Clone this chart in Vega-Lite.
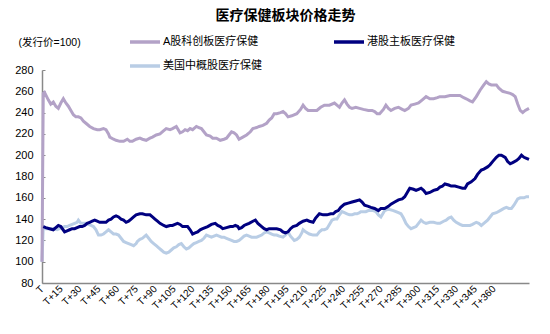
{
  "$schema": "https://vega.github.io/schema/vega-lite/v6.json",
  "width": 487,
  "height": 213,
  "autosize": {"type": "none"},
  "padding": {"left": 42, "top": 70, "right": 21, "bottom": 51},
  "background": "white",
  "config": {
    "view": {"stroke": null},
    "font": "Liberation Sans, Noto Sans CJK SC",
    "axis": {"labelFont": "Liberation Sans, Noto Sans CJK SC", "titleFont": "Liberation Sans, Noto Sans CJK SC"},
    "legend": {"labelFont": "Liberation Sans, Noto Sans CJK SC"}
  },
  "title": {
    "text": "医疗保健板块价格走势",
    "anchor": "middle",
    "fontSize": 14,
    "fontWeight": "bold",
    "font": "Noto Sans CJK SC",
    "color": "#000000",
    "offset": 2
  },
  "datasets": {
    "a": [{"d":0,"v":100},{"d":1,"v":258},{"d":2,"v":259},{"d":5,"v":252},{"d":7,"v":248},{"d":9,"v":250},{"d":11,"v":246},{"d":13,"v":244},{"d":15,"v":249},{"d":17,"v":253},{"d":19,"v":249},{"d":21,"v":246},{"d":23,"v":242},{"d":25,"v":238},{"d":27,"v":236},{"d":29,"v":236},{"d":31,"v":235},{"d":33,"v":232},{"d":35,"v":230},{"d":38,"v":227},{"d":41,"v":225},{"d":44,"v":224},{"d":46,"v":224},{"d":49,"v":225},{"d":51,"v":224},{"d":53,"v":220},{"d":54,"v":217},{"d":57,"v":215},{"d":59,"v":214},{"d":62,"v":213},{"d":65,"v":213},{"d":68,"v":215},{"d":70,"v":213},{"d":72,"v":213},{"d":75,"v":215},{"d":78,"v":216},{"d":80,"v":215},{"d":83,"v":214},{"d":86,"v":216},{"d":88,"v":217},{"d":91,"v":219},{"d":94,"v":220},{"d":97,"v":223},{"d":99,"v":225},{"d":102,"v":224},{"d":104,"v":225},{"d":107,"v":227},{"d":110,"v":221},{"d":112,"v":222},{"d":114,"v":224},{"d":116,"v":223},{"d":118,"v":225},{"d":120,"v":224},{"d":123,"v":227},{"d":125,"v":226},{"d":127,"v":225},{"d":129,"v":222},{"d":131,"v":219},{"d":134,"v":218},{"d":136,"v":216},{"d":139,"v":216},{"d":142,"v":214},{"d":145,"v":215},{"d":147,"v":216},{"d":149,"v":219},{"d":151,"v":222},{"d":153,"v":221},{"d":155,"v":219},{"d":157,"v":215},{"d":160,"v":217},{"d":163,"v":219},{"d":166,"v":222},{"d":168,"v":225},{"d":171,"v":226},{"d":173,"v":227},{"d":176,"v":228},{"d":179,"v":230},{"d":181,"v":233},{"d":183,"v":235},{"d":185,"v":239},{"d":187,"v":239},{"d":190,"v":240},{"d":192,"v":241},{"d":194,"v":239},{"d":196,"v":236},{"d":199,"v":237},{"d":203,"v":239},{"d":206,"v":243},{"d":208,"v":247},{"d":210,"v":244},{"d":212,"v":242},{"d":216,"v":242},{"d":219,"v":242},{"d":222,"v":245},{"d":225,"v":247},{"d":229,"v":247},{"d":233,"v":249},{"d":235,"v":247},{"d":237,"v":245},{"d":239,"v":249},{"d":241,"v":252},{"d":243,"v":248},{"d":245,"v":245},{"d":247,"v":244},{"d":250,"v":245},{"d":253,"v":244},{"d":256,"v":243},{"d":260,"v":242},{"d":263,"v":242},{"d":265,"v":241},{"d":267,"v":239},{"d":269,"v":239},{"d":272,"v":243},{"d":274,"v":247},{"d":276,"v":244},{"d":278,"v":242},{"d":281,"v":244},{"d":284,"v":245},{"d":287,"v":243},{"d":289,"v":242},{"d":292,"v":244},{"d":294,"v":247},{"d":297,"v":248},{"d":300,"v":249},{"d":303,"v":252},{"d":306,"v":255},{"d":309,"v":253},{"d":312,"v":253},{"d":315,"v":254},{"d":317,"v":255},{"d":321,"v":255},{"d":325,"v":256},{"d":329,"v":256},{"d":333,"v":256},{"d":336,"v":254},{"d":338,"v":253},{"d":341,"v":251},{"d":343,"v":250},{"d":346,"v":255},{"d":349,"v":261},{"d":352,"v":266},{"d":354,"v":269},{"d":356,"v":267},{"d":358,"v":266},{"d":360,"v":266},{"d":362,"v":266},{"d":364,"v":263},{"d":367,"v":260},{"d":370,"v":259},{"d":373,"v":258},{"d":375,"v":257},{"d":377,"v":255},{"d":379,"v":248},{"d":381,"v":242},{"d":383,"v":240},{"d":385,"v":242},{"d":388,"v":244}],
    "h": [{"d":1,"v":133},{"d":3,"v":132},{"d":6,"v":131},{"d":9,"v":130},{"d":11,"v":132},{"d":13,"v":134},{"d":15,"v":133},{"d":18,"v":128},{"d":20,"v":129},{"d":22,"v":130},{"d":24,"v":131},{"d":26,"v":131},{"d":28,"v":132},{"d":30,"v":133},{"d":32,"v":133},{"d":34,"v":134},{"d":36,"v":136},{"d":38,"v":137},{"d":40,"v":138},{"d":42,"v":139},{"d":44,"v":138},{"d":46,"v":137},{"d":49,"v":137},{"d":51,"v":137},{"d":53,"v":139},{"d":55,"v":140},{"d":57,"v":142},{"d":59,"v":143},{"d":61,"v":142},{"d":63,"v":140},{"d":65,"v":139},{"d":67,"v":137},{"d":69,"v":138},{"d":71,"v":140},{"d":73,"v":142},{"d":75,"v":144},{"d":78,"v":145},{"d":80,"v":145},{"d":83,"v":144},{"d":86,"v":144},{"d":88,"v":142},{"d":90,"v":140},{"d":92,"v":138},{"d":94,"v":136},{"d":97,"v":134},{"d":99,"v":133},{"d":102,"v":134},{"d":104,"v":134},{"d":106,"v":135},{"d":108,"v":136},{"d":110,"v":135},{"d":112,"v":133},{"d":114,"v":133},{"d":116,"v":133},{"d":118,"v":130},{"d":120,"v":126},{"d":122,"v":127},{"d":124,"v":128},{"d":126,"v":130},{"d":128,"v":131},{"d":130,"v":132},{"d":132,"v":133},{"d":135,"v":135},{"d":138,"v":136},{"d":140,"v":134},{"d":142,"v":133},{"d":144,"v":131},{"d":147,"v":132},{"d":150,"v":133},{"d":152,"v":133},{"d":154,"v":134},{"d":156,"v":133},{"d":157,"v":131},{"d":159,"v":132},{"d":161,"v":134},{"d":163,"v":135},{"d":165,"v":136},{"d":168,"v":138},{"d":170,"v":139},{"d":172,"v":136},{"d":175,"v":133},{"d":177,"v":131},{"d":179,"v":130},{"d":181,"v":131},{"d":184,"v":131},{"d":187,"v":131},{"d":190,"v":130},{"d":192,"v":128},{"d":194,"v":127},{"d":196,"v":128},{"d":198,"v":131},{"d":200,"v":133},{"d":203,"v":134},{"d":205,"v":136},{"d":208,"v":138},{"d":211,"v":139},{"d":213,"v":138},{"d":216,"v":137},{"d":218,"v":141},{"d":221,"v":145},{"d":224,"v":144},{"d":227,"v":144},{"d":230,"v":145},{"d":232,"v":145},{"d":234,"v":147},{"d":236,"v":148},{"d":238,"v":151},{"d":241,"v":154},{"d":244,"v":155},{"d":247,"v":156},{"d":250,"v":157},{"d":253,"v":158},{"d":255,"v":156},{"d":257,"v":153},{"d":260,"v":152},{"d":262,"v":151},{"d":265,"v":150},{"d":268,"v":148},{"d":270,"v":150},{"d":273,"v":150},{"d":276,"v":152},{"d":278,"v":154},{"d":281,"v":156},{"d":284,"v":158},{"d":287,"v":159},{"d":289,"v":161},{"d":291,"v":165},{"d":293,"v":169},{"d":296,"v":168},{"d":298,"v":167},{"d":300,"v":168},{"d":302,"v":169},{"d":304,"v":167},{"d":306,"v":164},{"d":309,"v":165},{"d":312,"v":167},{"d":315,"v":168},{"d":317,"v":170},{"d":319,"v":171},{"d":321,"v":173},{"d":324,"v":172},{"d":326,"v":171},{"d":329,"v":171},{"d":332,"v":170},{"d":335,"v":169},{"d":337,"v":169},{"d":339,"v":173},{"d":342,"v":175},{"d":345,"v":178},{"d":347,"v":182},{"d":350,"v":186},{"d":352,"v":187},{"d":355,"v":189},{"d":357,"v":191},{"d":359,"v":194},{"d":362,"v":198},{"d":364,"v":200},{"d":366,"v":200},{"d":369,"v":198},{"d":371,"v":194},{"d":373,"v":192},{"d":375,"v":193},{"d":378,"v":195},{"d":380,"v":197},{"d":382,"v":200},{"d":384,"v":198},{"d":386,"v":197},{"d":388,"v":196}],
    "u": [{"d":0,"v":100},{"d":1,"v":133},{"d":3,"v":131},{"d":6,"v":131},{"d":9,"v":131},{"d":12,"v":130},{"d":14,"v":131},{"d":16,"v":132},{"d":18,"v":133},{"d":20,"v":133},{"d":22,"v":134},{"d":24,"v":135},{"d":26,"v":136},{"d":28,"v":137},{"d":29,"v":139},{"d":31,"v":136},{"d":33,"v":136},{"d":35,"v":136},{"d":37,"v":135},{"d":39,"v":134},{"d":41,"v":133},{"d":43,"v":130},{"d":45,"v":125},{"d":47,"v":125},{"d":49,"v":126},{"d":51,"v":128},{"d":53,"v":130},{"d":55,"v":128},{"d":57,"v":126},{"d":59,"v":126},{"d":61,"v":125},{"d":63,"v":122},{"d":65,"v":119},{"d":67,"v":118},{"d":69,"v":117},{"d":71,"v":116},{"d":73,"v":115},{"d":75,"v":117},{"d":76,"v":119},{"d":78,"v":121},{"d":80,"v":122},{"d":82,"v":124},{"d":83,"v":125},{"d":85,"v":122},{"d":87,"v":119},{"d":89,"v":117},{"d":91,"v":115},{"d":93,"v":113},{"d":95,"v":111},{"d":97,"v":109},{"d":99,"v":108},{"d":101,"v":109},{"d":103,"v":111},{"d":105,"v":113},{"d":107,"v":114},{"d":109,"v":116},{"d":111,"v":117},{"d":113,"v":114},{"d":115,"v":112},{"d":117,"v":113},{"d":119,"v":115},{"d":121,"v":117},{"d":123,"v":118},{"d":125,"v":119},{"d":127,"v":120},{"d":129,"v":122},{"d":131,"v":125},{"d":133,"v":124},{"d":135,"v":123},{"d":137,"v":124},{"d":139,"v":125},{"d":141,"v":124},{"d":143,"v":123},{"d":145,"v":123},{"d":147,"v":122},{"d":149,"v":121},{"d":151,"v":120},{"d":153,"v":119},{"d":155,"v":119},{"d":157,"v":120},{"d":159,"v":122},{"d":161,"v":124},{"d":163,"v":125},{"d":165,"v":124},{"d":167,"v":123},{"d":169,"v":123},{"d":171,"v":123},{"d":173,"v":124},{"d":175,"v":125},{"d":177,"v":127},{"d":179,"v":128},{"d":181,"v":127},{"d":183,"v":126},{"d":185,"v":125},{"d":187,"v":125},{"d":189,"v":124},{"d":192,"v":123},{"d":194,"v":125},{"d":196,"v":128},{"d":198,"v":124},{"d":201,"v":120},{"d":203,"v":121},{"d":205,"v":123},{"d":207,"v":127},{"d":208,"v":130},{"d":210,"v":128},{"d":213,"v":126},{"d":216,"v":125},{"d":219,"v":125},{"d":221,"v":128},{"d":223,"v":130},{"d":225,"v":130},{"d":227,"v":131},{"d":229,"v":135},{"d":231,"v":139},{"d":233,"v":140},{"d":235,"v":140},{"d":237,"v":144},{"d":239,"v":147},{"d":241,"v":146},{"d":243,"v":145},{"d":245,"v":144},{"d":247,"v":144},{"d":249,"v":145},{"d":251,"v":145},{"d":253,"v":146},{"d":254,"v":147},{"d":256,"v":147},{"d":258,"v":147},{"d":260,"v":148},{"d":262,"v":148},{"d":264,"v":148},{"d":266,"v":147},{"d":268,"v":144},{"d":270,"v":142},{"d":272,"v":146},{"d":273,"v":148},{"d":275,"v":149},{"d":277,"v":149},{"d":280,"v":148},{"d":282,"v":147},{"d":284,"v":146},{"d":286,"v":145},{"d":288,"v":141},{"d":290,"v":136},{"d":292,"v":133},{"d":294,"v":131},{"d":296,"v":132},{"d":298,"v":133},{"d":300,"v":136},{"d":302,"v":139},{"d":304,"v":137},{"d":306,"v":136},{"d":309,"v":137},{"d":312,"v":137},{"d":315,"v":136},{"d":317,"v":136},{"d":320,"v":138},{"d":322,"v":139},{"d":324,"v":141},{"d":326,"v":142},{"d":328,"v":139},{"d":330,"v":137},{"d":333,"v":135},{"d":335,"v":134},{"d":338,"v":134},{"d":341,"v":134},{"d":343,"v":135},{"d":346,"v":137},{"d":348,"v":136},{"d":350,"v":134},{"d":352,"v":136},{"d":355,"v":139},{"d":357,"v":142},{"d":359,"v":145},{"d":362,"v":146},{"d":365,"v":148},{"d":368,"v":150},{"d":370,"v":151},{"d":372,"v":150},{"d":374,"v":150},{"d":376,"v":153},{"d":379,"v":159},{"d":381,"v":160},{"d":384,"v":160},{"d":386,"v":161},{"d":388,"v":161}]
  },
  "encoding": {
    "x": {
      "field": "d",
      "type": "quantitative",
      "scale": {"domain": [0, 388], "nice": false, "zero": false},
      "axis": {
        "title": null,
        "values": [0,15,30,45,60,75,90,105,120,135,150,165,180,195,210,225,240,255,270,285,300,315,330,345,360],
        "labelExpr": "datum.value == 0 ? 'T' : 'T+' + datum.value",
        "labelAngle": -45,
        "labelAlign": "right",
        "labelBaseline": "middle",
        "labelFontSize": 10,
        "labelColor": "#000000",
        "labelPadding": 4,
        "labelOverlap": false,
        "labelBound": false,
        "labelFlush": false,
        "ticks": false,
        "grid": false,
        "domainColor": "#898989",
        "domainWidth": 1.5
      }
    },
    "y": {
      "field": "v",
      "type": "quantitative",
      "scale": {"domain": [80, 280], "nice": false, "zero": false},
      "axis": {
        "title": "(发行价=100)",
        "titleAngle": 0,
        "titleAlign": "left",
        "titleBaseline": "middle",
        "titleX": -24,
        "titleY": -28,
        "titleFontSize": 10.5,
        "titleFontWeight": "normal",
        "titleColor": "#000000",
        "values": [80,100,120,140,160,180,200,220,240,260,280],
        "labelFontSize": 11,
        "labelColor": "#000000",
        "labelPadding": 12,
        "ticks": true,
        "tickSize": -3,
        "tickColor": "#898989",
        "tickWidth": 1,
        "grid": false,
        "domainColor": "#898989",
        "domainWidth": 1.5
      }
    }
  },
  "layer": [
    {
      "data": {"name": "u"},
      "mark": {"type": "line", "strokeWidth": 3},
      "encoding": {"color": {"datum": "美国中概股医疗保健", "type": "nominal"}}
    },
    {
      "data": {"name": "a"},
      "mark": {"type": "line", "strokeWidth": 3},
      "encoding": {"color": {"datum": "A股科创板医疗保健", "type": "nominal"}}
    },
    {
      "data": {"name": "h"},
      "mark": {"type": "line", "strokeWidth": 3},
      "encoding": {
        "color": {
          "datum": "港股主板医疗保健",
          "type": "nominal",
          "scale": {
            "domain": ["A股科创板医疗保健", "港股主板医疗保健", "美国中概股医疗保健"],
            "range": ["#B3A2C7", "#000080", "#B9CDE5"]
          },
          "legend": {
            "title": null,
            "orient": "none",
            "legendX": 86,
            "legendY": -45,
            "direction": "horizontal",
            "columns": 2,
            "columnPadding": 65,
            "rowPadding": -7,
            "padding": 0,
            "symbolType": "stroke",
            "symbolSize": 900,
            "symbolStrokeWidth": 3.5,
            "symbolOpacity": 1,
            "labelFontSize": 11,
            "labelColor": "#000000",
            "labelOffset": 1,
            "labelLimit": 200
          }
        }
      }
    }
  ]
}
